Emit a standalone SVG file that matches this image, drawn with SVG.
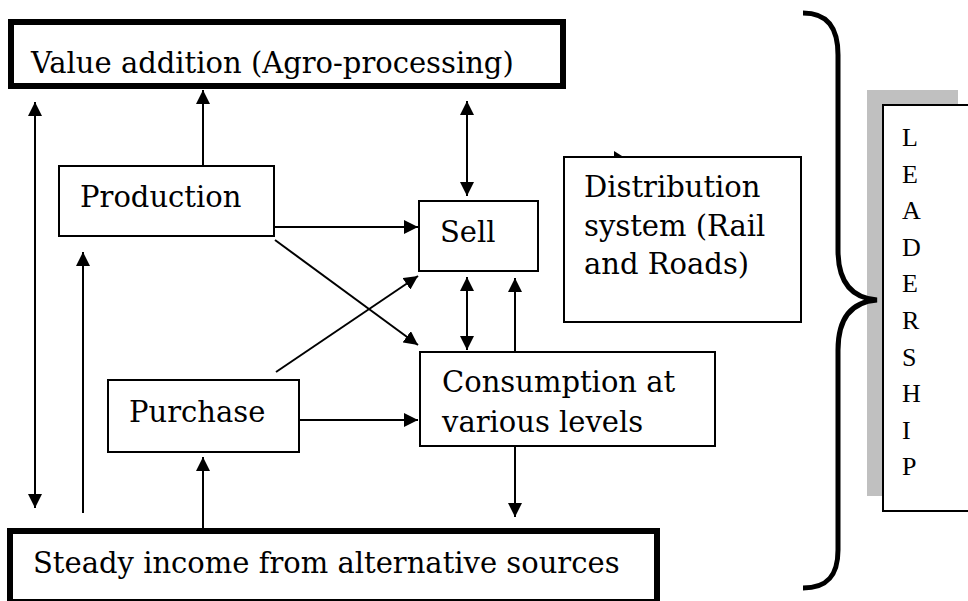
<svg xmlns="http://www.w3.org/2000/svg" width="968" height="601" viewBox="0 0 968 601">
  <style>
    .box { fill: #fff; stroke: #000; stroke-width: 2; }
    .thick { fill: #fff; stroke: #000; stroke-width: 6; }
    .lbl { font-family: "DejaVu Serif", "Liberation Serif", serif; font-size: 29px; fill: #000; }
    .lead { font-family: "Liberation Serif", "Times New Roman", serif; font-size: 26px; fill: #000; }
    .conn line { stroke: #000; stroke-width: 2; fill: none; }
    .one { marker-end: url(#arrow); }
    .two { marker-start: url(#arrow); marker-end: url(#arrow); }
  </style>
  <defs>
    <marker id="arrow" markerUnits="userSpaceOnUse" markerWidth="14" markerHeight="14" refX="14" refY="7" orient="auto-start-reverse" viewBox="0 0 14 14">
      <path d="M0,0 L14,7 L0,14 z" fill="#000"/>
    </marker>
  </defs>
  <rect width="968" height="601" fill="#fff"/>

  <g id="value-addition">
    <rect class="thick" x="11" y="22" width="552" height="64"/>
    <text class="lbl" x="31" y="73">Value addition (Agro-processing)</text>
  </g>

  <g id="production">
    <rect class="box" x="59" y="166" width="215" height="70"/>
    <text class="lbl" x="80" y="207">Production</text>
  </g>

  <g id="sell">
    <rect class="box" x="419" y="201" width="119" height="70"/>
    <text class="lbl" x="440" y="242">Sell</text>
  </g>

  <g id="distribution">
    <polygon points="614,151 622,156 614,156" fill="#000"/>
    <rect class="box" x="564" y="157" width="237" height="165"/>
    <text class="lbl" x="584" y="197">Distribution</text>
    <text class="lbl" x="584" y="236">system (Rail</text>
    <text class="lbl" x="584" y="274">and Roads)</text>
  </g>

  <g id="purchase">
    <rect class="box" x="108" y="380" width="191" height="72"/>
    <text class="lbl" x="129" y="422">Purchase</text>
  </g>

  <g id="consumption">
    <rect class="box" x="420" y="352" width="295" height="94"/>
    <text class="lbl" x="442" y="392">Consumption at</text>
    <text class="lbl" x="442" y="432">various levels</text>
  </g>

  <g id="steady-income">
    <rect class="thick" x="10" y="531" width="647" height="71"/>
    <text class="lbl" x="33" y="573">Steady income from alternative sources</text>
  </g>

  <g id="leadership">
    <rect x="867" y="90" width="91" height="406" fill="#c0c0c0"/>
    <rect x="883" y="105" width="90" height="406" fill="#fff" stroke="#000" stroke-width="2"/>
    <text class="lead">
      <tspan x="902" y="146">L</tspan>
      <tspan x="902" dy="36.6">E</tspan>
      <tspan x="902" dy="36.6">A</tspan>
      <tspan x="902" dy="36.6">D</tspan>
      <tspan x="902" dy="36.6">E</tspan>
      <tspan x="902" dy="36.6">R</tspan>
      <tspan x="902" dy="36.6">S</tspan>
      <tspan x="902" dy="36.6">H</tspan>
      <tspan x="902" dy="36.6">I</tspan>
      <tspan x="902" dy="36.6">P</tspan>
    </text>
  </g>

  <g id="brace">
    <path d="M803,13 C828,13 838,28 838,55 L838,250 C838,280 850,298 877,300 C850,302 838,320 838,350 L838,550 C838,575 828,588 803,588" fill="none" stroke="#000" stroke-width="5"/>
  </g>

  <g id="connectors" class="conn">
    <line class="two" x1="35" y1="102" x2="35" y2="508"/>
    <line class="one" x1="83" y1="513" x2="83" y2="252"/>
    <line class="one" x1="203" y1="165" x2="203" y2="90"/>
    <line class="two" x1="467" y1="101" x2="467" y2="196"/>
    <line class="one" x1="275" y1="227" x2="418" y2="227"/>
    <line class="one" x1="275" y1="240" x2="418" y2="345"/>
    <line class="one" x1="276" y1="372" x2="418" y2="276"/>
    <line class="two" x1="467" y1="277" x2="467" y2="350"/>
    <line class="one" x1="515" y1="351" x2="515" y2="278"/>
    <line class="one" x1="299" y1="420" x2="418" y2="420"/>
    <line class="one" x1="515" y1="447" x2="515" y2="517"/>
    <line class="one" x1="203" y1="528" x2="203" y2="457"/>
  </g>
</svg>
